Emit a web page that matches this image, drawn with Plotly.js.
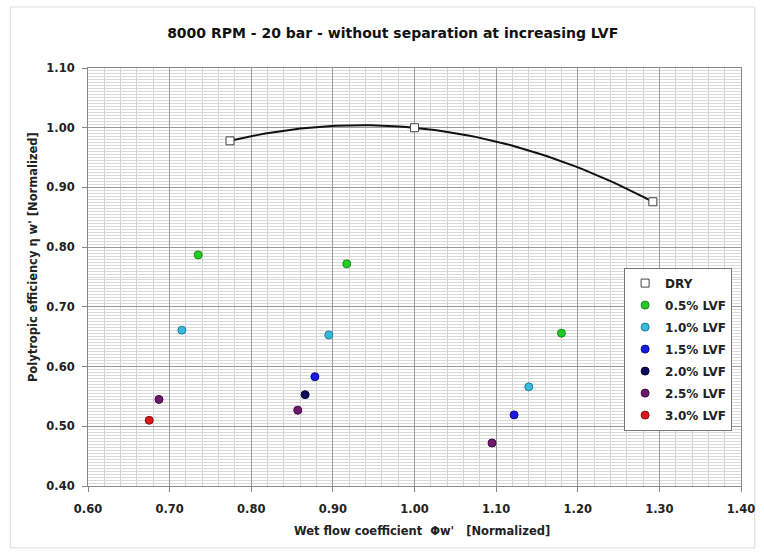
<!DOCTYPE html>
<html>
<head>
<meta charset="utf-8">
<script src="https://cdn.plot.ly/plotly-3.0.1.min.js"></script>
<style>
  html, body { margin: 0; padding: 0; background: #ffffff; }
  #chart { width: 764px; height: 552px; }
</style>
</head>
<body>
<div id="chart"></div>
<script>
// Wet flow coefficient (x) and polytropic efficiency (y), both normalized
const dryX   = [0.774, 1.000, 1.292];
const dryY   = [0.978, 1.000, 0.876];

const lvf05X = [0.735, 0.917, 1.180];
const lvf05Y = [0.787, 0.772, 0.656];

const lvf10X = [0.715, 0.895, 1.140];
const lvf10Y = [0.661, 0.653, 0.566];

const lvf15X = [0.878, 1.122];
const lvf15Y = [0.583, 0.519];

const lvf20X = [0.866];
const lvf20Y = [0.553];

const lvf25X = [0.687, 0.857, 1.095];
const lvf25Y = [0.545, 0.527, 0.472];

const lvf30X = [0.675];
const lvf30Y = [0.510];

const seriesNames = ["DRY", "0.5% LVF", "1.0% LVF", "1.5% LVF", "2.0% LVF", "2.5% LVF", "3.0% LVF"];

// Order-2 polynomial trendline of the DRY series (least squares)
function polyFit2(xs, ys) {
  let s = [0, 0, 0, 0, 0], t = [0, 0, 0];
  for (let i = 0; i < xs.length; i++) {
    let p = 1;
    for (let k = 0; k < 5; k++) { s[k] += p; if (k < 3) t[k] += p * ys[i]; p *= xs[i]; }
  }
  const A = [[s[0], s[1], s[2], t[0]], [s[1], s[2], s[3], t[1]], [s[2], s[3], s[4], t[2]]];
  for (let c = 0; c < 3; c++) {
    for (let r = c + 1; r < 3; r++) {
      const f = A[r][c] / A[c][c];
      for (let k = c; k < 4; k++) A[r][k] -= f * A[c][k];
    }
  }
  const coef = [0, 0, 0];
  for (let r = 2; r >= 0; r--) {
    let v = A[r][3];
    for (let k = r + 1; k < 3; k++) v -= A[r][k] * coef[k];
    coef[r] = v / A[r][r];
  }
  return coef;
}
const cf = polyFit2(dryX, dryY);
const trendX = [], trendY = [];
const x0 = Math.min(...dryX), x1 = Math.max(...dryX);
for (let i = 0; i <= 60; i++) {
  const x = x0 + (x1 - x0) * i / 60;
  trendX.push(x);
  trendY.push(cf[0] + cf[1] * x + cf[2] * x * x);
}

function dots(name, xs, ys, fill, edge) {
  return {
    type: "scatter", mode: "markers", name: name, x: xs, y: ys,
    legendgroup: name,
    marker: { symbol: "circle", size: 8, color: fill, line: { color: edge, width: 1 } },
    hoverinfo: "x+y+name"
  };
}

const traces = [
  {
    type: "scatter", mode: "lines", x: trendX, y: trendY,
    line: { color: "#111111", width: 2 }, showlegend: false, hoverinfo: "skip"
  },
  {
    type: "scatter", mode: "markers", name: seriesNames[0], x: dryX, y: dryY,
    legendgroup: seriesNames[0],
    marker: { symbol: "square", size: 8, color: "#ffffff", line: { color: "#444444", width: 1 } }
  },
  dots(seriesNames[1], lvf05X, lvf05Y, "#22cc22", "#178a17"),
  dots(seriesNames[2], lvf10X, lvf10Y, "#33bbdd", "#1b7f99"),
  dots(seriesNames[3], lvf15X, lvf15Y, "#1a1ae6", "#0c0c8a"),
  dots(seriesNames[4], lvf20X, lvf20Y, "#0a0a5c", "#000033"),
  dots(seriesNames[5], lvf25X, lvf25Y, "#6e1870", "#3d0a3e"),
  dots(seriesNames[6], lvf30X, lvf30Y, "#e01818", "#8a0c0c")
];

const FONT = "DejaVu Sans, Verdana, sans-serif";
const tickFont = { family: FONT, size: 11.5, color: "#222222", weight: "bold" };

const layout = {
  width: 764, height: 552,
  paper_bgcolor: "#ffffff", plot_bgcolor: "#ffffff",
  margin: { l: 88, r: 23, t: 68, b: 66 },
  showlegend: true,
  title: {
    text: "8000 RPM - 20 bar - without separation at increasing LVF",
    font: { family: FONT, size: 14, color: "#111111", weight: "bold" },
    x: 0.514, xanchor: "center", y: 0.94, yanchor: "middle"
  },
  xaxis: {
    range: [0.60, 1.40], dtick: 0.1, tick0: 0.6, tickformat: ".2f",
    showgrid: true, gridcolor: "#9a9a9a", gridwidth: 1,
    minor: { dtick: 0.02, showgrid: true, gridcolor: "#d0d0d0", gridwidth: 1 },
    ticks: "outside", ticklen: 5, tickcolor: "#888888",
    showline: true, linecolor: "#888888", linewidth: 1, mirror: true,
    zeroline: false, tickfont: tickFont, ticklabelstandoff: 7
  },
  yaxis: {
    range: [0.40, 1.10], dtick: 0.1, tick0: 0.4, tickformat: ".2f",
    showgrid: true, gridcolor: "#9a9a9a", gridwidth: 1,
    minor: { dtick: 0.005, showgrid: true, gridcolor: "#dadada", gridwidth: 1 },
    ticks: "outside", ticklen: 5, tickcolor: "#888888",
    showline: true, linecolor: "#888888", linewidth: 1, mirror: true,
    zeroline: false, tickfont: tickFont, ticklabelstandoff: 5
  },
  legend: {
    x: 0.821, xanchor: "left", y: 0.5225, yanchor: "top",
    bgcolor: "#ffffff", bordercolor: "#777777", borderwidth: 1,
    font: { family: FONT, size: 12, color: "#222222", weight: "bold" },
    tracegroupgap: 3, itemwidth: 30
  },
  annotations: [
    {
      text: "Wet flow coefficient  Φw'   [Normalized]",
      xref: "paper", yref: "paper", x: 0.512, y: -0.108, xanchor: "center", yanchor: "middle",
      showarrow: false,
      font: { family: FONT, size: 11.5, color: "#222222", weight: "bold" }
    },
    {
      text: "Polytropic efficiency η w' [Normalized]",
      xref: "paper", yref: "paper", x: -0.084, y: 0.548, xanchor: "center", yanchor: "middle",
      textangle: -90, showarrow: false,
      font: { family: FONT, size: 11.5, color: "#222222", weight: "bold" }
    }
  ],
  shapes: [
    {
      type: "rect", xref: "paper", yref: "paper",
      x0: -0.119, x1: 1.021, y0: -0.148, y1: 1.146,
      line: { color: "#dddddd", width: 1 }, fillcolor: "rgba(0,0,0,0)", layer: "below"
    }
  ]
};

Plotly.newPlot("chart", traces, layout, { displayModeBar: false, responsive: false });
</script>
</body>
</html>
